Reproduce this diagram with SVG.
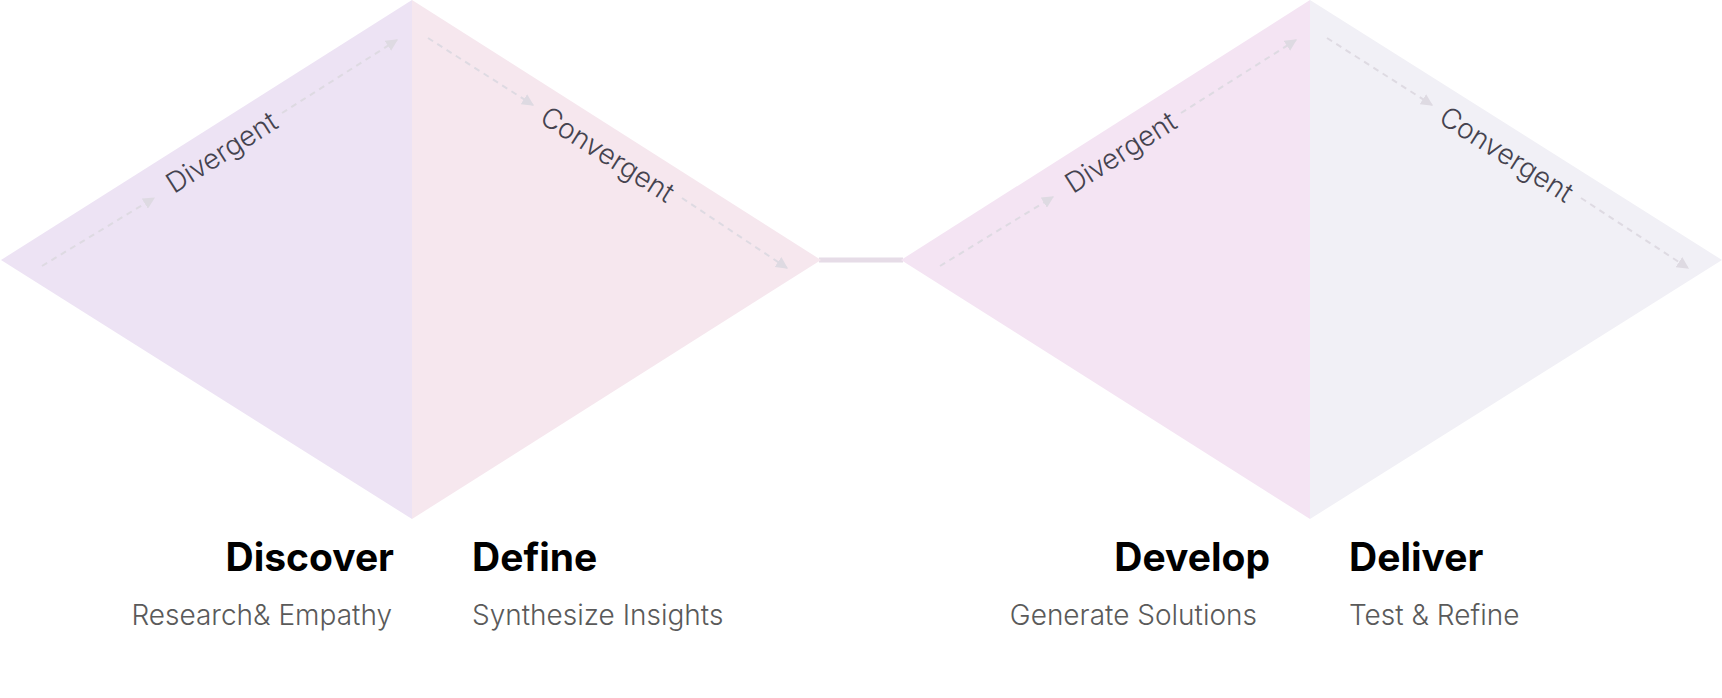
<svg xmlns="http://www.w3.org/2000/svg" width="1722" height="698" viewBox="0 0 1722 698">
<style>
.title{font-family:Inter,"Liberation Sans",sans-serif;font-weight:700;font-size:39px;fill:#000}
.sub{font-family:Inter,"Liberation Sans",sans-serif;font-weight:300;font-size:28px;fill:#5a5a5a}
.lbl{font-family:Inter,"Liberation Sans",sans-serif;font-weight:300;font-size:28px;fill:#45434f;text-anchor:middle}
.dash{stroke:#dedae2;stroke-width:2;stroke-dasharray:6 5;fill:none;marker-end:url(#ah)}
</style>
<defs>
<marker id="ah" viewBox="0 0 10 10" refX="9" refY="5" markerWidth="6" markerHeight="6" orient="auto" markerUnits="strokeWidth">
<path d="M0,0 L10,5 L0,10 z" fill="#dedae2"/>
</marker>
</defs>
<g id="connectors">
<line x1="819" y1="260" x2="903" y2="260" stroke="#e6dce7" stroke-width="5"/>
</g>
<g id="discover">
<polygon points="1,260 412,0 412,519" fill="#ede3f4"/>
<path class="dash" d="M42,266 L154,198"/>
<path class="dash" d="M282,113 L397,40"/>
<text class="lbl" transform="translate(222,153) rotate(-32.5)" y="9">Divergent</text>
<text class="title" x="394" y="571" text-anchor="end">Discover</text>
<text class="sub" x="392" y="625" text-anchor="end">Research&amp; Empathy</text>
</g>
<g id="define">
<polygon points="412,0 821,260 412,519" fill="#f6e7ee"/>
<path class="dash" d="M428,38 L533,105"/>
<path class="dash" d="M682,198 L787,268"/>
<text class="lbl" transform="translate(607,155) rotate(32.5)" y="9">Convergent</text>
<text class="title" x="472" y="571">Define</text>
<text class="sub" x="472" y="625">Synthesize Insights</text>
</g>
<g id="develop">
<polygon points="901,260 1310,0 1310,519" fill="#f4e4f3"/>
<path class="dash" d="M940,266 L1053,197"/>
<path class="dash" d="M1181,113 L1296,40"/>
<text class="lbl" transform="translate(1121,153) rotate(-32.5)" y="9">Divergent</text>
<text class="title" x="1270" y="571" text-anchor="end">Develop</text>
<text class="sub" x="1257" y="625" text-anchor="end">Generate Solutions</text>
</g>
<g id="deliver">
<polygon points="1310,0 1722,260 1310,519" fill="#f1f0f6"/>
<path class="dash" d="M1327,38 L1432,105"/>
<path class="dash" d="M1581,198 L1688,268"/>
<text class="lbl" transform="translate(1506,155) rotate(32.5)" y="9">Convergent</text>
<text class="title" x="1349" y="571">Deliver</text>
<text class="sub" x="1349" y="625">Test &amp; Refine</text>
</g>
</svg>
